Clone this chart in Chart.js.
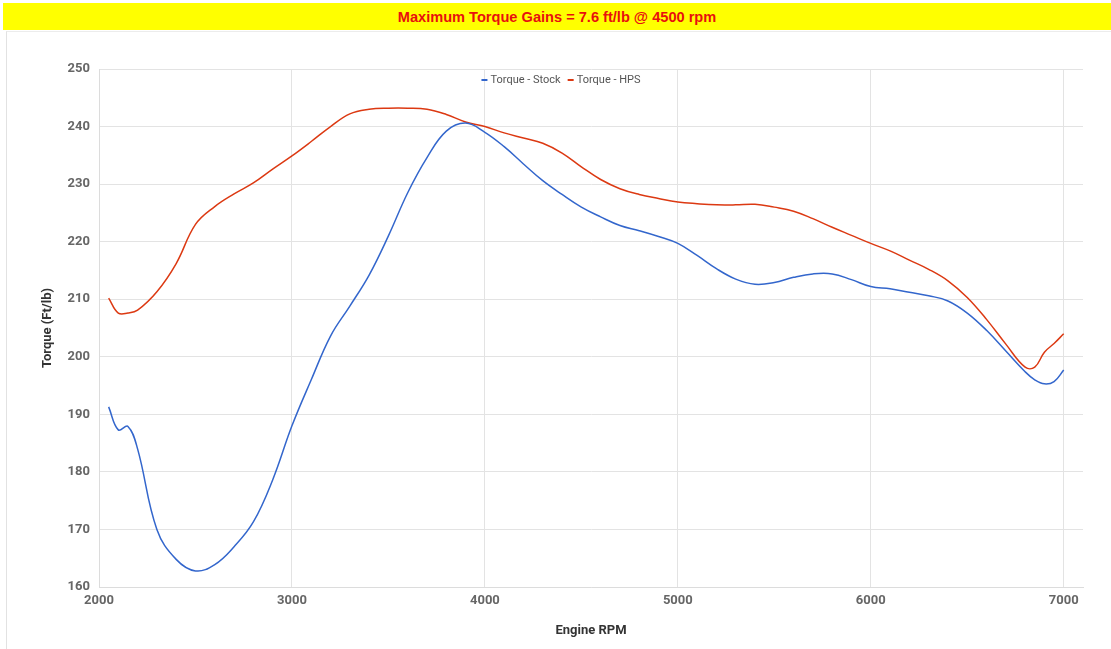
<!DOCTYPE html>
<html>
<head>
<meta charset="utf-8">
<script src="https://cdn.jsdelivr.net/npm/chart.js"></script>
<style>
body{margin:0;background:#fff;width:1111px;height:649px;overflow:hidden;font-family:Roboto,sans-serif;}
.banner{position:absolute;left:3px;top:3px;width:1108px;height:27px;background:#ffff00;color:#e8100e;
  font:bold 14.6px "Liberation Sans",Arial,sans-serif;text-align:center;line-height:28px;}
.chartBox{position:absolute;left:6px;top:31px;width:1104px;height:617px;border-left:1px solid #e2e2e2;border-top:1px solid #ececec;}
</style>
</head>
<body>
<div class="banner">Maximum Torque Gains = 7.6 ft/lb @ 4500 rpm</div>
<div class="chartBox"><canvas id="torqueChart"></canvas></div>
<script>
const rpm = [2050,2100,2150,2200,2300,2400,2500,2600,2700,2800,2900,3000,3100,3200,3300,3400,3500,3600,3700,3800,3900,
  4000,4100,4200,4300,4400,4500,4600,4700,4800,4900,5000,5100,5200,5300,5400,5500,5600,5700,5800,5900,
  6000,6100,6200,6300,6400,6500,6600,6700,6800,6850,6900,6950,7000];
const torqueStock = [191.3,187.3,187.9,184.0,170.0,164.8,162.8,163.9,167.0,171.3,178.6,188.0,196.0,203.6,208.8,214.2,221.0,228.5,234.6,239.2,240.6,
  239.0,236.5,233.5,230.6,228.2,226.0,224.3,222.8,221.9,220.9,219.7,217.6,215.3,213.5,212.6,212.9,213.8,214.4,214.4,213.4,
  212.2,211.8,211.2,210.6,209.7,207.6,204.6,201.0,197.4,196.0,195.3,195.7,197.7];
const torqueHps = [210.2,207.6,207.6,208.1,211.3,216.2,223.0,226.1,228.3,230.2,232.6,234.9,237.4,240.0,242.2,243.0,243.2,243.2,243.0,242.1,240.8,
  240.0,238.9,238.0,237.1,235.4,233.0,230.8,229.2,228.2,227.5,226.9,226.6,226.4,226.4,226.5,226.0,225.3,224.0,222.5,221.1,
  219.7,218.4,216.8,215.2,213.2,210.3,206.5,202.2,198.2,198.2,200.8,202.3,204.0];
const xTicks = [2000,3000,4000,5000,6000,7000];
const yTicks = [160,170,180,190,200,210,220,230,240,250];

const tickFont = {family:'Roboto', size:13, weight:'bold'};
const titleFont = {family:'Roboto', size:13, weight:'bold'};

// legend drawn inside the top of the plot area, like the original
const insideLegend = {
  id:'insideLegend',
  afterDraw(chart){
    const ctx = chart.ctx;
    const area = chart.chartArea;
    ctx.save();
    ctx.font = '11px Roboto';
    ctx.textBaseline = 'middle';
    const items = chart.data.datasets.map(d=>({label:d.label,color:d.borderColor,w:ctx.measureText(d.label).width}));
    const mark = 6, gap = 3, space = 7;
    let total = 0;
    items.forEach((it,i)=>{ total += mark + gap + it.w + (i ? space : 0); });
    let x = (area.left + area.right)/2 - total/2 - 30;
    const y = area.top + 11;
    items.forEach(it=>{
      ctx.fillStyle = it.color;
      ctx.fillRect(x, y-1, mark, 2);
      x += mark + gap;
      ctx.fillStyle = '#555';
      ctx.fillText(it.label, x, y);
      x += it.w + space;
    });
    ctx.restore();
  }
};

let torqueChart = new Chart(document.getElementById('torqueChart'),{
  type:'line',
  data:{
    datasets:[{
      label:'Torque - Stock',
      data:rpm.map((r,i)=>({x:r,y:torqueStock[i]})),
      borderColor:'#3366cc',
      backgroundColor:'#3366cc',
      borderWidth:1.5,
      pointRadius:0,
      tension:0.4,
      fill:false
    },{
      label:'Torque - HPS',
      data:rpm.map((r,i)=>({x:r,y:torqueHps[i]})),
      borderColor:'#dc3912',
      backgroundColor:'#dc3912',
      borderWidth:1.5,
      pointRadius:0,
      tension:0.4,
      fill:false
    }]
  },
  options:{
    responsive:true,
    maintainAspectRatio:false,
    animation:false,
    layout:{padding:{top:37,right:28,left:0,bottom:0}},
    plugins:{
      legend:{display:false},
      tooltip:{enabled:false}
    },
    scales:{
      x:{
        type:'linear',
        min:2000,
        max:7100,
        afterFit:s=>{s.height=62;},
        afterBuildTicks:s=>{s.ticks=xTicks.map(v=>({value:v}));},
        grid:{color:'#e3e3e3',drawTicks:false},
        border:{color:'#dcdcdc'},
        ticks:{padding:6,color:'#666',font:tickFont,maxRotation:0,callback:v=>String(v)},
        title:{display:true,text:'Engine RPM',color:'#333',font:titleFont,padding:{top:0,bottom:10}}
      },
      y:{
        min:160,
        max:250,
        afterFit:s=>{s.width=92;},
        afterBuildTicks:s=>{s.ticks=yTicks.map(v=>({value:v}));},
        grid:{color:'#e3e3e3',drawTicks:false},
        border:{color:'#dcdcdc'},
        ticks:{padding:9,color:'#666',font:tickFont,callback:v=>String(v)},
        title:{display:true,text:'Torque (Ft/lb)',color:'#333',font:titleFont,padding:{top:33,bottom:0}}
      }
    }
  },
  plugins:[insideLegend]
});
</script>
</body>
</html>
